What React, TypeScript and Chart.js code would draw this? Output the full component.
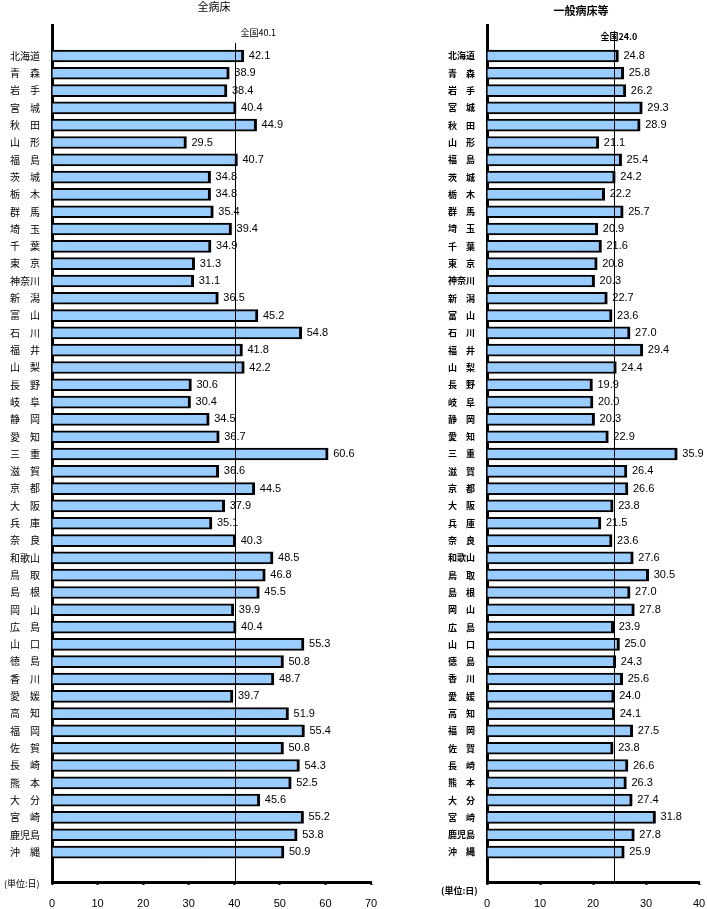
import React, { useEffect, useRef } from 'react';
import { Chart, registerables } from 'chart.js';
Chart.register(...registerables);

const PREFS = ['北海道','青森','岩手','宮城','秋田','山形','福島','茨城','栃木','群馬','埼玉','千葉','東京','神奈川','新潟','富山','石川','福井','山梨','長野','岐阜','静岡','愛知','三重','滋賀','京都','大阪','兵庫','奈良','和歌山','鳥取','島根','岡山','広島','山口','徳島','香川','愛媛','高知','福岡','佐賀','長崎','熊本','大分','宮崎','鹿児島','沖縄'];

const ALL_BEDS = [42.1,38.9,38.4,40.4,44.9,29.5,40.7,34.8,34.8,35.4,39.4,34.9,31.3,31.1,36.5,45.2,54.8,41.8,42.2,30.6,30.4,34.5,36.7,60.6,36.6,44.5,37.9,35.1,40.3,48.5,46.8,45.5,39.9,40.4,55.3,50.8,48.7,39.7,51.9,55.4,50.8,54.3,52.5,45.6,55.2,53.8,50.9];

const GENERAL_BEDS = [24.8,25.8,26.2,29.3,28.9,21.1,25.4,24.2,22.2,25.7,20.9,21.6,20.8,20.3,22.7,23.6,27.0,29.4,24.4,19.9,20.0,20.3,22.9,35.9,26.4,26.6,23.8,21.5,23.6,27.6,30.5,27.0,27.8,23.9,25.0,24.3,25.6,24.0,24.1,27.5,23.8,26.6,26.3,27.4,31.8,27.8,25.9];

const ALL_TICKS = [0, 10, 20, 30, 40, 50, 60, 70];
const GEN_TICKS = [0, 10, 20, 30, 40];
const NATIONAL_ALL = 40.1;
const NATIONAL_GEN = 24.0;
const TITLE_ALL = '全病床';
const TITLE_GEN = '一般病床等';
const UNIT_TEXT = '(単位:日)';

const CJK = '"Noto Sans CJK JP", sans-serif';
const LATIN = '"Liberation Sans", Arial, sans-serif';

function prefLabel(n: string) {
  return n.length === 2 ? n[0] + '　' + n[1] : n;
}

type PanelCfg = {
  values: number[];
  ticks: number[];
  avg: number;
  title: string;
  width: number;
  yWidth: number;
  padRight: number;
  boldLabels: boolean;
  labelSize: number;
  titleX: number;
  titleY: number;
  unitX: number;
  unitY: number;
  avgLabelDx: number;
  avgLabelY: number;
  avgLineTop: number;
  avgBold: boolean;
};

function Panel({ cfg, left }: { cfg: PanelCfg; left: number }) {
  const ref = useRef<HTMLCanvasElement | null>(null);
  useEffect(() => {
    const canvas = ref.current!;
    const overlay = {
      id: 'overlay',
      afterDatasetsDraw(chart: any) {
        const ctx = chart.ctx;
        const xs = chart.scales.x;
        const area = chart.chartArea;
        ctx.save();
        const ax = Math.round(xs.getPixelForValue(cfg.avg)) + 0.5;
        ctx.strokeStyle = '#000';
        ctx.lineWidth = 1;
        ctx.beginPath();
        ctx.moveTo(ax, cfg.avgLineTop);
        ctx.lineTo(ax, area.bottom - 1);
        ctx.stroke();
        ctx.fillStyle = '#000';
        ctx.font = '11px ' + LATIN;
        ctx.textAlign = 'left';
        ctx.textBaseline = 'middle';
        const meta = chart.getDatasetMeta(0);
        meta.data.forEach((el: any, i: number) => {
          ctx.fillText(cfg.values[i].toFixed(1), el.x + 5, el.y);
        });
        ctx.font = (cfg.avgBold ? 'bold ' : '') + '9px ' + CJK;
        ctx.fillText('全国' + cfg.avg.toFixed(1), ax + cfg.avgLabelDx, cfg.avgLabelY);
        ctx.font = (cfg.boldLabels ? 'bold ' : '') + '11px ' + CJK;
        ctx.textAlign = 'center';
        ctx.fillText(cfg.title, cfg.titleX, cfg.titleY);
        ctx.font = (cfg.boldLabels ? 'bold ' : '') + '9px ' + CJK;
        ctx.textAlign = 'left';
        ctx.fillText(UNIT_TEXT, cfg.unitX, cfg.unitY);
        ctx.restore();
      },
    };
    const chart = new Chart(canvas, {
      type: 'bar',
      data: {
        datasets: [
          {
            data: cfg.values.map((v, i) => ({ x: v, y: i })) as any,
            backgroundColor: '#99CCFF',
            borderColor: '#000000',
            borderWidth: { top: 2, right: 3, bottom: 2, left: 0 } as any,
            borderSkipped: false as any,
            barThickness: 12,
          },
        ],
      },
      options: {
        indexAxis: 'y',
        responsive: false,
        animation: false,
        devicePixelRatio: 1,
        layout: { padding: { top: 25, right: cfg.padRight, bottom: 0, left: 0 } },
        plugins: { legend: { display: false }, tooltip: { enabled: false }, title: { display: false } },
        scales: {
          x: {
            type: 'linear',
            position: 'bottom',
            offset: false,
            min: cfg.ticks[0],
            max: cfg.ticks[cfg.ticks.length - 1],
            afterBuildTicks: (s: any) => {
              s.ticks = cfg.ticks.map((v) => ({ value: v }));
            },
            afterFit: (s: any) => {
              s.height = 27;
              s.paddingLeft = 0;
              s.paddingRight = 0;
            },
            grid: {
              display: true,
              drawOnChartArea: false,
              drawTicks: true,
              tickLength: 3,
              tickWidth: 2,
              tickColor: '#000',
            },
            border: { display: true, width: 3, color: '#000' },
            ticks: {
              color: '#000',
              font: { family: LATIN, size: 11 },
              padding: 12,
              maxRotation: 0,
              autoSkip: false,
            },
          },
          y: {
            type: 'linear',
            reverse: true,
            offset: false,
            min: -1.79,
            max: 47.73,
            afterBuildTicks: (s: any) => {
              s.ticks = PREFS.map((_, i) => ({ value: i }));
            },
            afterFit: (s: any) => {
              s.width = cfg.yWidth;
              s.paddingTop = 0;
              s.paddingBottom = 0;
            },
            grid: { display: false, drawTicks: false },
            border: { display: true, width: 3, color: '#000' },
            ticks: {
              color: '#000',
              autoSkip: false,
              padding: 12,
              font: { family: CJK, size: cfg.labelSize, weight: cfg.boldLabels ? 'bold' : 'normal' } as any,
              callback: (v: any) => {
                const n = PREFS[Math.round(Number(v))];
                return n ? prefLabel(n) : '';
              },
            },
          },
        },
      },
      plugins: [overlay],
    } as any);
    return () => chart.destroy();
  }, [cfg]);
  return (
    <canvas
      ref={ref}
      width={cfg.width}
      height={909}
      style={{ position: 'absolute', left, top: 0, width: cfg.width, height: 909 }}
    />
  );
}

const LEFT_CFG: PanelCfg = {
  values: ALL_BEDS,
  ticks: ALL_TICKS,
  avg: NATIONAL_ALL,
  title: TITLE_ALL,
  width: 380,
  yWidth: 52,
  padRight: 9,
  boldLabels: false,
  labelSize: 10,
  titleX: 214,
  titleY: 7,
  unitX: 4,
  unitY: 884,
  avgLabelDx: 5,
  avgLabelY: 33,
  avgLineTop: 43,
  avgBold: false,
};

const RIGHT_CFG: PanelCfg = {
  values: GENERAL_BEDS,
  ticks: GEN_TICKS,
  avg: NATIONAL_GEN,
  title: TITLE_GEN,
  width: 327,
  yWidth: 107,
  padRight: 8,
  boldLabels: true,
  labelSize: 9,
  titleX: 201,
  titleY: 11,
  unitX: 61,
  unitY: 891,
  avgLabelDx: -14,
  avgLabelY: 37,
  avgLineTop: 31,
  avgBold: true,
};

export default function App() {
  return (
    <div style={{ position: 'absolute', left: 0, top: 0, width: 707, height: 909, background: '#fff' }}>
      <Panel cfg={LEFT_CFG} left={0} />
      <Panel cfg={RIGHT_CFG} left={380} />
    </div>
  );
}
